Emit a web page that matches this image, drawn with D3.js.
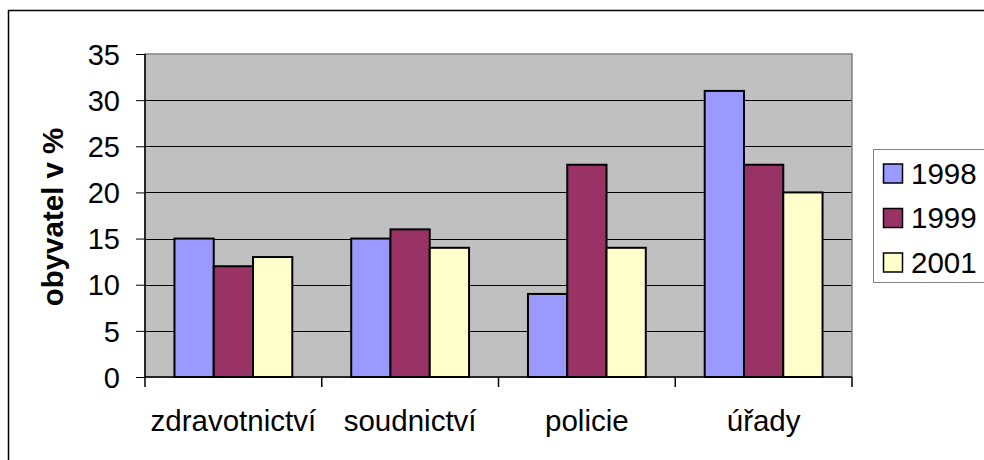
<!DOCTYPE html>
<html>
<head>
<meta charset="utf-8">
<script src="https://cdn.jsdelivr.net/npm/d3@7"></script>
<style>
  body { margin: 0; background: #fff; }
  text { font-family: Arial, "Liberation Sans", sans-serif; fill: #000; }
</style>
</head>
<body>
<script>
// data
var Categories = ["zdravotnictví", "soudnictví", "policie", "úřady"];
var SeriesNames = ["1998", "1999", "2001"];
var Values1998 = [15, 15, 9, 31];
var Values1999 = [12, 16, 23, 23];
var Values2001 = [13, 14, 14, 20];
var YTicks = [0, 5, 10, 15, 20, 25, 30, 35];
var SeriesColors = ["#9999FF", "#993366", "#FFFFCC"];

var AllValues = [Values1998, Values1999, Values2001];

var svg = d3.select("body").append("svg").attr("width", 984).attr("height", 460);

// outer chart border (only top/left visible)
svg.append("rect").attr("x", 8.5).attr("y", 10.5).attr("width", 1000).attr("height", 500)
	.attr("fill", "none").attr("stroke", "#000").attr("stroke-width", 1.5);

var Plot = {left: 145, top: 54, right: 852, bottom: 377};

var x0 = d3.scaleBand().domain(Categories).range([Plot.left, Plot.right]).paddingInner(0).paddingOuter(0);
var y = d3.scaleLinear().domain([0, 35]).range([Plot.bottom, Plot.top]);

// group of 3 bars takes 3/(3+1.5) of category (Excel gap width 150%)
var GroupW = x0.bandwidth() * 3 / 4.5;
var BarW = GroupW / 3;
var GroupOff = (x0.bandwidth() - GroupW) / 2;

svg.append("rect").attr("x", Plot.left).attr("y", Plot.top)
	.attr("width", Plot.right - Plot.left).attr("height", Plot.bottom - Plot.top)
	.attr("fill", "#C0C0C0");

// gridlines
svg.append("g").selectAll("line").data(YTicks.filter(function(d) {return d > 0 && d < 35;}))
	.enter().append("line")
	.attr("x1", Plot.left).attr("x2", Plot.right)
	.attr("y1", function(d) {return Math.round(y(d)) + 0.5;})
	.attr("y2", function(d) {return Math.round(y(d)) + 0.5;})
	.attr("stroke", "#000").attr("stroke-width", 1);

// plot border
svg.append("rect").attr("x", Plot.left).attr("y", Plot.top)
	.attr("width", Plot.right - Plot.left).attr("height", Plot.bottom - Plot.top)
	.attr("fill", "none").attr("stroke", "#808080").attr("stroke-width", 1.5);

// bars
Categories.forEach(function(c, ci) {
	SeriesNames.forEach(function(s, si) {
		var v = AllValues[si][ci];
		svg.append("rect")
			.attr("x", x0(c) + GroupOff + si * BarW)
			.attr("y", y(v))
			.attr("width", BarW)
			.attr("height", y(0) - y(v))
			.attr("fill", SeriesColors[si])
			.attr("stroke", "#000").attr("stroke-width", 2);
	});
});

// y axis
var yAxis = d3.axisLeft(y).tickValues(YTicks).tickSize(9).tickPadding(16);
var ya = svg.append("g").attr("transform", "translate(" + Plot.left + ",0)").call(yAxis);
ya.select(".domain").attr("stroke", "#000").attr("stroke-width", 1.5).attr("d", "M0," + Plot.top + "V" + Plot.bottom);
ya.selectAll(".tick line").attr("stroke", "#000");
ya.selectAll(".tick text").attr("font-size", 29).attr("font-family", "Arial, 'Liberation Sans', sans-serif").attr("dy", "0.35em");

// x axis
var xa = svg.append("g").attr("transform", "translate(0," + Plot.bottom + ")");
xa.append("line").attr("x1", Plot.left).attr("x2", Plot.right).attr("y1", 0).attr("y2", 0)
	.attr("stroke", "#000").attr("stroke-width", 1.5);
xa.selectAll("line.tk").data(Categories.concat(["end"])).enter().append("line").attr("class", "tk")
	.attr("x1", function(d, i) {return Plot.left + i * x0.bandwidth();})
	.attr("x2", function(d, i) {return Plot.left + i * x0.bandwidth();})
	.attr("y1", 0).attr("y2", 10).attr("stroke", "#000").attr("stroke-width", 1.5);
xa.selectAll("text").data(Categories).enter().append("text")
	.attr("x", function(d) {return x0(d) + x0.bandwidth() / 2;})
	.attr("y", 54).attr("text-anchor", "middle").attr("font-size", 29.5)
	.text(function(d) {return d;});

// y title
svg.append("text").attr("transform", "translate(63,217) rotate(-90)")
	.attr("text-anchor", "middle").attr("font-size", 29.5).attr("font-weight", "bold")
	.text("obyvatel v %");

// legend
var lg = svg.append("g");
lg.append("rect").attr("x", 873.5).attr("y", 149.5).attr("width", 200).attr("height", 133)
	.attr("fill", "#fff").attr("stroke", "#808080").attr("stroke-width", 1);
SeriesNames.forEach(function(s, i) {
	var yy = 164 + i * 44.5;
	lg.append("rect").attr("x", 883.5).attr("y", yy).attr("width", 19).attr("height", 19)
		.attr("fill", SeriesColors[i]).attr("stroke", "#000").attr("stroke-width", 1.5);
	lg.append("text").attr("x", 911).attr("y", yy + 19.5).attr("font-size", 29.5).text(s);
});
</script>
</body>
</html>
